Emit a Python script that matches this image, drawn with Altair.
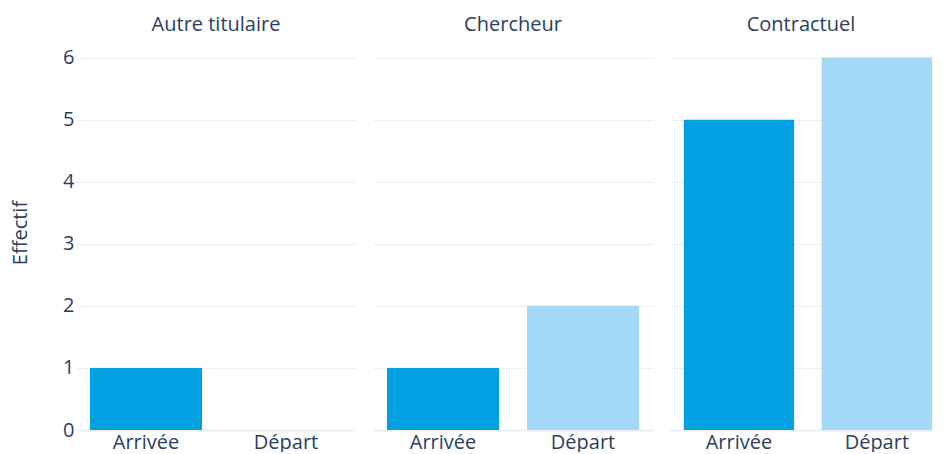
import altair as alt
import pandas as pd

categories = ["Autre titulaire", "Autre titulaire", "Chercheur", "Chercheur", "Contractuel", "Contractuel"]
types = ["Arrivée", "Départ", "Arrivée", "Départ", "Arrivée", "Départ"]
values = [1, 0, 1, 2, 5, 6]
panels = ["Autre titulaire", "Chercheur", "Contractuel"]
y_ticks = [0, 1, 2, 3, 4, 5, 6]

df = pd.DataFrame({"cat": categories, "type": types, "val": values})

FONT = "Open Sans"
TXT = "#2a3f5f"
GRID = "#EBF0F8"
PW = 280
PH = 391
FS = 20


def panel(name, first, width, p_outer, align):
    sub = df[df["cat"] == name]
    common = dict(values=y_ticks, ticks=False, domain=False, gridColor=GRID,
                  gridWidth=alt.condition("datum.value === 0", alt.value(2), alt.value(1)))
    if first:
        yaxis = alt.Axis(labelFontSize=FS, labelColor=TXT, labelFont=FONT, labelPadding=2,
                         titleFontSize=20, titleFont=FONT, titleColor=TXT, titleFontWeight="normal",
                         titleX=-56, titleY=PH / 2 - 2, titleAngle=-90, titleAlign="center",
                         titleBaseline="middle", **common)
    else:
        yaxis = alt.Axis(labels=False, title=None, **common)
    return alt.Chart(sub).mark_bar().encode(
        x=alt.X("type:N", title=None,
                scale=alt.Scale(domain=["Arrivée", "Départ"], paddingInner=0.2,
                                paddingOuter=p_outer, align=align),
                axis=alt.Axis(labelAngle=0, ticks=False, domain=False, labelFontSize=FS,
                              labelColor=TXT, labelFont=FONT, labelPadding=2, grid=False)),
        y=alt.Y("val:Q", title="Effectif" if first else None,
                scale=alt.Scale(domain=[0, 6.3], nice=False),
                axis=yaxis),
        color=alt.Color("type:N", legend=None,
                        scale=alt.Scale(domain=["Arrivée", "Départ"], range=["#00A0E3", "#A3D9F7"])),
    ).properties(
        width=width, height=PH,
        title=alt.TitleParams(name, fontSize=FS, color=TXT, font=FONT, fontWeight="normal",
                              anchor="middle", offset=-16, baseline="bottom", frame="group"),
    )


p1 = panel(panels[0], True, PW, 0.1, 0.5)
p2 = panel(panels[1], False, PW, 0.1, 0.5)
p3 = panel(panels[2], False, 262, 0.05, 1)

chart = alt.hconcat(p1, p2, p3, spacing=17).resolve_scale(y="shared").properties(
    padding={"left": 2, "top": 7, "right": 0, "bottom": 0}
).configure(background="white").configure_view(stroke=None)

chart.save("out.html", embed_options={"renderer": "svg", "actions": False})
